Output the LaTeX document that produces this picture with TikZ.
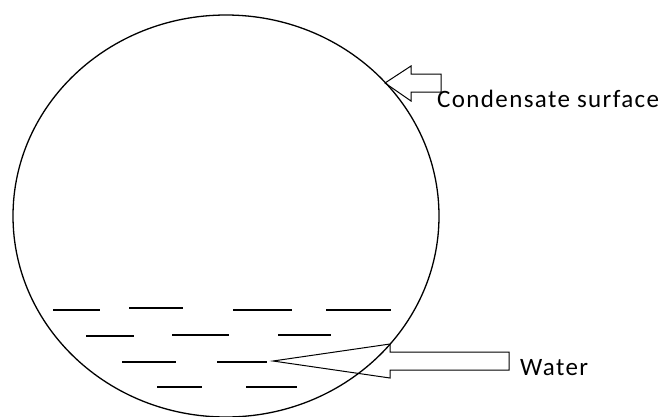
\documentclass[tikz,border=0pt]{standalone}
\usepackage{fontspec}
\newfontfamily\labelfont[LetterSpace=5.5]{Carlito}
\begin{document}
\begin{tikzpicture}[x=1pt,y=-1pt,
  lbl/.style={font=\labelfont\fontsize{25}{30}\selectfont, inner sep=0pt, anchor=base west, text=black},
  wave/.style={line width=1.1pt},
  blockarrow/.style={line width=1pt, line join=miter}]
\useasboundingbox (0,0) rectangle (664,416);
% vessel
\draw[line width=1.3pt] (226,216) ellipse [x radius=213, y radius=201];
% water surface dashes
\draw[wave] (53,310) -- (100,310);
\draw[wave] (129,308) -- (183,308);
\draw[wave] (233,310) -- (292,310);
\draw[wave] (326,310) -- (391,310);
\draw[wave] (86,336) -- (134,336);
\draw[wave] (172,335) -- (229,335);
\draw[wave] (278,335) -- (331,335);
\draw[wave] (122,362) -- (176,362);
\draw[wave] (217,362) -- (267,362);
\draw[wave] (157,387) -- (202,387);
\draw[wave] (246,387) -- (297,387);
% block arrows
\draw[blockarrow] (273,361) -- (390,344) -- (390,352) -- (509,352) -- (509,370) -- (390,370) -- (390,378) -- cycle;
\draw[blockarrow] (385,83) -- (411,66) -- (411,74) -- (441,74) -- (441,92) -- (411,92) -- (411,101) -- cycle;
% labels
\node[lbl] (cond) at (437,107) {Condensate surface};
\node[lbl] (water) at (520,375) {Water};
\end{tikzpicture}
\end{document}
